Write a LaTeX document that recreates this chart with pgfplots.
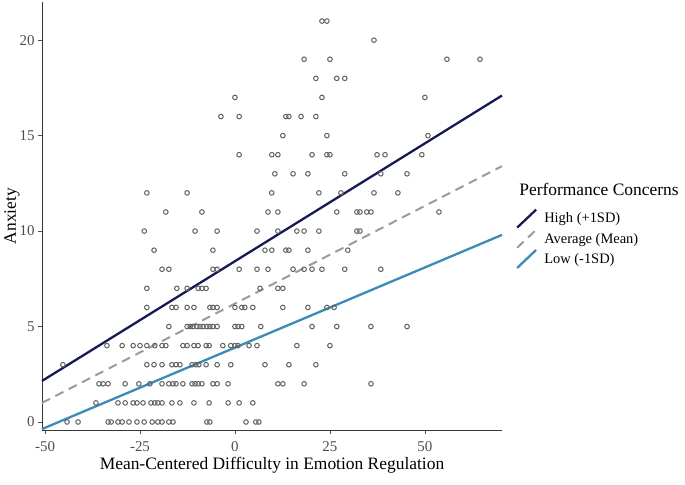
\documentclass[border=0pt]{standalone}
\usepackage{pgfplots}
\pgfplotsset{compat=1.18}
\usepackage{fontspec}
\setmainfont{Liberation Serif}
\definecolor{hiC}{RGB}{22,26,84}
\definecolor{avC}{RGB}{155,155,155}
\definecolor{loC}{RGB}{58,140,180}
\definecolor{tkC}{RGB}{77,77,77}
\begin{document}
\begin{tikzpicture}
\path[use as bounding box] (-42bp,-55bp) rectangle (643bp,430bp);
\begin{axis}[
  at={(0,0)}, anchor=south west,
  scale only axis, width=460bp, height=428bp,
  xmin=-50.8, xmax=70.3, ymin=-0.42, ymax=22,
  axis lines*=left,
  axis line style={tkC!70!black, line width=0.6bp},
  xtick={-50,-25,0,25,50}, ytick={0,5,10,15,20},
  tick align=outside, major tick length=4bp,
  tick style={tkC, line width=0.6bp},
  /pgf/number format/assume math mode=true,
  tick label style={font=\fontsize{15}{18}\selectfont, text=tkC},
  x tick label style={yshift=-4bp},
  xlabel={Mean-Centered Difficulty in Emotion Regulation},
  ylabel={Anxiety},
  label style={font=\fontsize{17.5}{20}\selectfont},
  x label style={at={(axis description cs:0.5,-0.082)}, anchor=center},
  y label style={at={(axis description cs:-0.065,0.5)}, anchor=center},
  clip=false,
  legend style={at={(axis description cs:1.03,0.518)}, anchor=north west,
    draw=none, fill=none, font=\fontsize{14.5}{17}\selectfont,
    row sep=0bp, cells={anchor=west}, inner sep=0pt},
  legend image code/.code={\draw[#1] (0bp,-9bp) -- (19bp,9bp); \path (24bp,0bp);},
]
\addplot[only marks, mark=o, mark size=2.3bp, mark options={draw=black!62, line width=1bp}, forget plot] coordinates {
(22.9,21) (24.2,21)
(36.6,20)
(18.2,19) (25.0,19) (55.8,19) (64.5,19)
(21.3,18) (26.8,18) (28.9,18)
(0,17) (22.9,17) (50,17)
(-3.7,16) (1.1,16) (13.4,16) (14.2,16) (17.4,16) (21.3,16)
(12.6,15) (24.2,15) (50.8,15)
(1.1,14) (9.7,14) (11.3,14) (20.3,14) (24.2,14) (25,14) (37.4,14) (39.5,14) (49.2,14)
(10.5,13) (15.3,13) (19.2,13) (28.9,13) (38.4,13) (45.3,13)
(-23.2,12) (-12.6,12) (9.7,12) (22.1,12) (27.9,12) (36.6,12) (42.9,12)
(-18.2,11) (-8.7,11) (8.7,11) (11.3,11) (26.8,11) (32.1,11) (32.9,11) (34.7,11) (35.8,11) (53.7,11)
(-23.9,10) (-10.5,10) (-4.7,10) (5.8,10) (11.3,10) (16.3,10) (18.2,10) (22.1,10) (32.1,10) (32.9,10)
(-21.3,9) (-5.8,9) (7.9,9) (9.7,9) (13.4,9) (14.2,9) (19.2,9) (29.7,9)
(-19.2,8) (-17.4,8) (-5.8,8) (-4.7,8) (1.1,8) (5.8,8) (8.7,8) (15.3,8) (18.2,8) (20.3,8) (22.9,8) (28.9,8) (38.4,8)
(-23.2,7) (-15.3,7) (-12.6,7) (-9.7,7) (-8.7,7) (-7.6,7) (6.6,7) (11.3,7) (12.6,7)
(-23.2,6) (-16.6,6) (-15.5,6) (-12.6,6) (-10.8,6) (-6.6,6) (-5.8,6) (-4.7,6) (0,6) (1.8,6) (2.6,6) (4.7,6) (12.6,6) (19.2,6) (24.2,6) (26.1,6)
(-17.4,5) (-12.6,5) (-11.8,5) (-11.1,5) (-10,5) (-9.2,5) (-8.4,5) (-7.4,5) (-6.6,5) (-5.8,5) (-4.7,5) (0,5) (0.8,5) (1.8,5) (6.8,5) (20.3,5) (26.8,5) (35.8,5) (45.3,5)
(-33.7,4) (-29.7,4) (-26.8,4) (-25,4) (-23.2,4) (-21.1,4) (-19.2,4) (-18.2,4) (-13.7,4) (-12.6,4) (-10.8,4) (-9.7,4) (-7.6,4) (-6.8,4) (-3.2,4) (-1.1,4) (0,4) (0.8,4) (3.7,4) (5.8,4) (16.3,4) (25,4)
(-45.3,3) (-23.2,3) (-21.3,3) (-19.2,3) (-16.6,3) (-15.5,3) (-14.5,3) (-11.3,3) (-10.3,3) (-9.5,3) (-7.6,3) (-4.7,3) (-1.1,3) (7.9,3) (14.2,3) (21.3,3)
(-35.8,2) (-34.7,2) (-33.4,2) (-28.9,2) (-25.3,2) (-22.4,2) (-19.2,2) (-17.4,2) (-16.3,2) (-15.5,2) (-13.7,2) (-11.3,2) (-10.5,2) (-9.7,2) (-8.7,2) (-5.8,2) (-4.7,2) (-1.8,2) (11.3,2) (12.6,2) (18.2,2) (35.8,2)
(-36.6,1) (-30.8,1) (-28.9,1) (-26.8,1) (-25.8,1) (-24.2,1) (-22.1,1) (-21.1,1) (-20.3,1) (-19.2,1) (-16.6,1) (-14.5,1) (-10.8,1) (-6.8,1) (-1.8,1) (1.1,1) (4.7,1)
(-44.2,0) (-41.3,0) (-33.4,0) (-32.6,0) (-30.8,0) (-29.7,0) (-27.9,0) (-25.8,0) (-23.9,0) (-21.8,0) (-20.3,0) (-19.2,0) (-17.4,0) (-16.3,0) (-7.4,0) (-6.6,0) (2.9,0) (5.5,0) (6.3,0)
};
\addplot[hiC, line width=2.3bp] coordinates {(-50.8,2.15) (70.3,17.1)};
\addlegendentry{High (+1SD)}
\addplot[avC, line width=2bp, dash pattern=on 9bp off 6bp] coordinates {(-50.8,1.0) (70.3,13.4)};
\addlegendentry{Average (Mean)}
\addplot[loC, line width=2.3bp] coordinates {(-50.8,-0.37) (70.3,9.8)};
\addlegendentry{Low (-1SD)}
\node[anchor=west, font=\fontsize{17.5}{20}\selectfont] at (axis description cs:1.03,0.563) {Performance Concerns};
\end{axis}
\end{tikzpicture}
\end{document}
